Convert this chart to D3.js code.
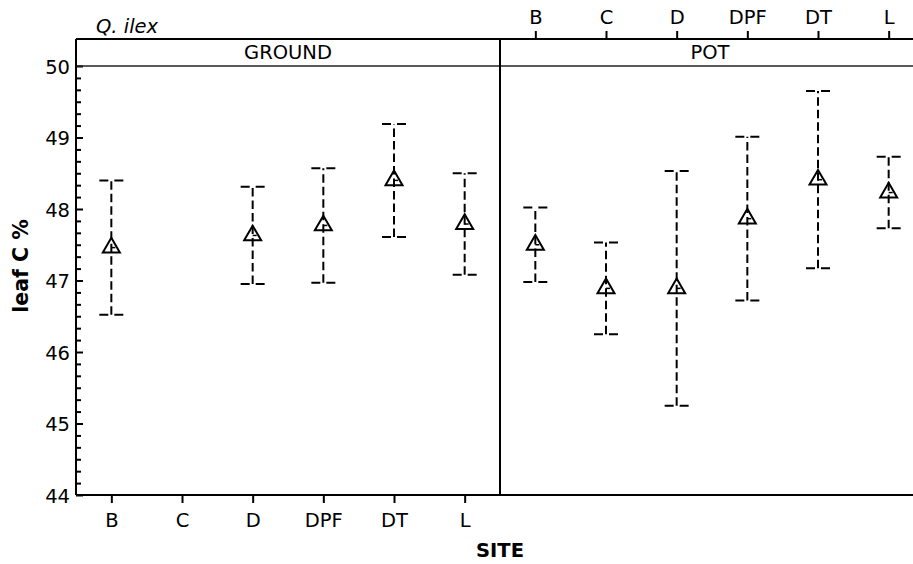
<!DOCTYPE html>
<html>
<head>
<meta charset="utf-8">
<script src="https://cdn.jsdelivr.net/npm/d3@7"></script>
<style>
  html, body { margin: 0; padding: 0; background: #fff; }
  svg { display: block; }
  text { font-family: "DejaVu Sans", Verdana, sans-serif; fill: #000; }
</style>
</head>
<body>
<svg id="chart" width="913" height="564"></svg>
<script>
// ---- data ----
const sites = ["B", "C", "D", "DPF", "DT", "L"];
const panels = ["GROUND", "POT"];
const groundMean  = [47.46, null, 47.63, 47.77, 48.40, 47.79];
const groundLower = [46.52, null, 46.95, 46.97, 47.61, 47.08];
const groundUpper = [48.40, null, 48.31, 48.57, 49.19, 48.50];
const potMean  = [47.50, 46.89, 46.89, 47.865, 48.41, 48.23];
const potLower = [46.98, 46.25, 45.25, 46.72, 47.17, 47.73];
const potUpper = [48.02, 47.53, 48.53, 49.01, 49.65, 48.73];
const yMajorTicks = [44, 45, 46, 47, 48, 49, 50];
const chartTitle = "Q. ilex";
const yTitle = "leaf C %";
const xTitle = "SITE";

// ---- layout ----
const svg = d3.select("#chart");
const pLeft = 76, pMid = 500, pRight = 924, pTop = 39, stripBottom = 66, pBottom = 495;
const fs = 19.5;

const y = d3.scaleLinear().domain([44, 50]).range([pBottom, stripBottom]);
const xG = d3.scalePoint().domain(sites).range([pLeft, pMid]).padding(0.5);
const xP = d3.scalePoint().domain(sites).range([pMid, pRight]).padding(0.5);

const series = [
  { x: xG, mean: groundMean, lo: groundLower, hi: groundUpper },
  { x: xP, mean: potMean, lo: potLower, hi: potUpper }
];

// minor ticks
const minor = [];
for (let v = 44; v < 50; v++) for (let k = 1; k < 6; k++) minor.push(v + k / 6);

svg.append("g").attr("transform", `translate(${pLeft},0)`)
  .call(d3.axisLeft(y).tickValues(minor).tickSize(-5).tickFormat(""))
  .call(g => g.select(".domain").remove())
  .selectAll("line").attr("stroke", "#000").attr("stroke-width", 2);

svg.append("g").attr("transform", `translate(${pLeft},0)`)
  .call(d3.axisLeft(y).tickValues(yMajorTicks).tickSize(-7).tickPadding(6).tickFormat(d3.format("d")))
  .call(g => g.select(".domain").remove())
  .call(g => g.selectAll("line").attr("stroke", "#000").attr("stroke-width", 2))
  .call(g => g.selectAll("text").attr("font-size", fs).attr("dy", "0.36em")
    .style("font-family", "DejaVu Sans, sans-serif"));

// bottom axis (GROUND panel)
svg.append("g").attr("transform", `translate(0,${pBottom})`)
  .call(d3.axisBottom(xG).tickSize(8).tickPadding(10))
  .call(g => g.select(".domain").remove())
  .call(g => g.selectAll("line").attr("stroke", "#000").attr("stroke-width", 2))
  .call(g => g.selectAll("text").attr("font-size", fs).style("font-family", "DejaVu Sans, sans-serif"));

// top axis (POT panel)
svg.append("g").attr("transform", `translate(0,${pTop})`)
  .call(d3.axisTop(xP).tickSize(8).tickPadding(7))
  .call(g => g.select(".domain").remove())
  .call(g => g.selectAll("line").attr("stroke", "#000").attr("stroke-width", 2))
  .call(g => g.selectAll("text").attr("font-size", fs).style("font-family", "DejaVu Sans, sans-serif"));

// frame
const frame = svg.append("g").attr("stroke", "#000").attr("fill", "none");
frame.append("line").attr("x1", pLeft).attr("x2", pRight).attr("y1", pTop).attr("y2", pTop).attr("stroke-width", 2);
frame.append("line").attr("x1", pLeft).attr("x2", pRight).attr("y1", stripBottom).attr("y2", stripBottom).attr("stroke-width", 1.5).attr("stroke", "#222");
frame.append("line").attr("x1", pLeft).attr("x2", pRight).attr("y1", pBottom).attr("y2", pBottom).attr("stroke-width", 2);
frame.append("line").attr("x1", pLeft).attr("x2", pLeft).attr("y1", pTop).attr("y2", pBottom).attr("stroke-width", 2);
frame.append("line").attr("x1", pMid).attr("x2", pMid).attr("y1", pTop).attr("y2", pBottom).attr("stroke-width", 2);

// strip labels
svg.append("text").attr("x", (pLeft + pMid) / 2).attr("y", 59).attr("text-anchor", "middle")
  .attr("font-size", fs).text(panels[0]);
svg.append("text").attr("x", (pMid + pRight) / 2 - 2).attr("y", 59).attr("text-anchor", "middle")
  .attr("font-size", fs).text(panels[1]);

// titles
svg.append("text").attr("x", 96).attr("y", 33).attr("font-size", fs).attr("font-style", "italic").text(chartTitle);
svg.append("text").attr("transform", "translate(28,266) rotate(-90)").attr("text-anchor", "middle")
  .attr("font-size", 20.5).attr("font-weight", "bold").text(yTitle);
svg.append("text").attr("x", 500).attr("y", 557).attr("text-anchor", "middle")
  .attr("font-size", fs).attr("font-weight", "bold").text(xTitle);

// marks
const tri = d3.symbol().type(d3.symbolTriangle).size(125);
series.forEach(s => {
  const g = svg.append("g");
  sites.forEach((site, i) => {
    if (s.mean[i] == null) return;
    const cx = s.x(site);
    g.append("line").attr("x1", cx).attr("x2", cx)
      .attr("y1", y(s.lo[i])).attr("y2", y(s.hi[i]))
      .attr("stroke", "#000").attr("stroke-width", 2).attr("stroke-dasharray", "8.5,4");
    [s.lo[i], s.hi[i]].forEach(v => {
      g.append("line").attr("x1", cx - 12).attr("x2", cx + 12)
        .attr("y1", y(v)).attr("y2", y(v))
        .attr("stroke", "#000").attr("stroke-width", 2).attr("stroke-dasharray", "9,6");
    });
    g.append("path").attr("d", tri()).attr("transform", `translate(${cx},${y(s.mean[i])})`)
      .attr("fill", "none").attr("stroke", "#000").attr("stroke-width", 2);
    g.append("line").attr("x1", cx).attr("x2", cx + 4)
      .attr("y1", y(s.mean[i])).attr("y2", y(s.mean[i]))
      .attr("stroke", "#000").attr("stroke-width", 1.5);
  });
});
</script>
</body>
</html>
